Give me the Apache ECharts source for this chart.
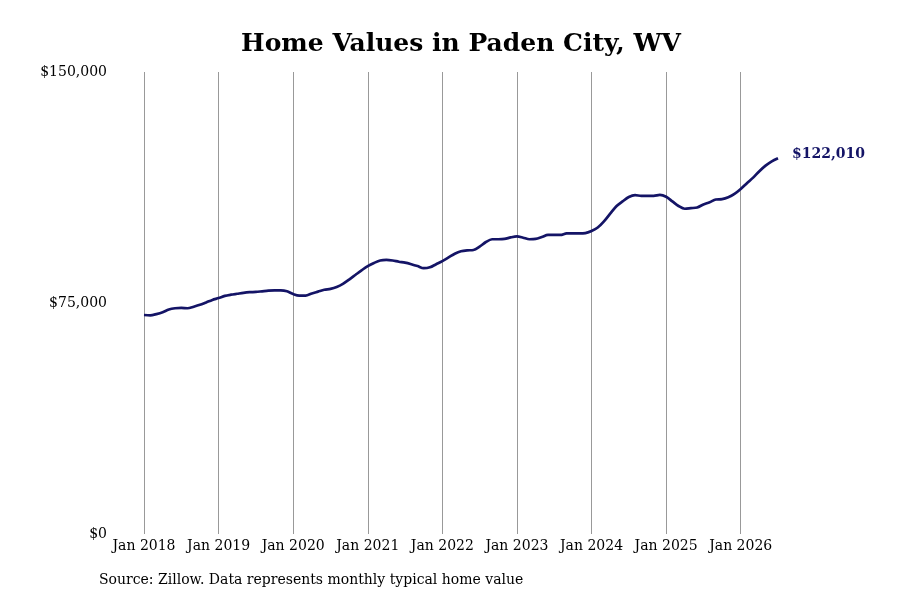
<!DOCTYPE html>
<html>
<head>
<meta charset="utf-8">
<script src="https://cdn.jsdelivr.net/npm/echarts@6/dist/echarts.min.js"></script>
<style>html,body{margin:0;padding:0;background:#fff;}#c{width:900px;height:600px;}</style>
</head>
<body>
<div id="c"></div>
<script>
const monthNames = ['Jan','Feb','Mar','Apr','May','Jun','Jul','Aug','Sep','Oct','Nov','Dec'];
const startYear = 2018;
const homeValues = [
  71.1, 71.0, 71.4, 72.0, 72.9, 73.3, 73.4, 73.3, 73.8, 74.4, 75.2, 76.0,
  76.6, 77.3, 77.7, 78.0, 78.3, 78.5, 78.6, 78.8, 79.0, 79.1, 79.1, 78.8,
  77.9, 77.4, 77.4, 78.1, 78.7, 79.3, 79.6, 80.2, 81.2, 82.6, 84.1, 85.6,
  87.0, 88.0, 88.8, 89.0, 88.8, 88.4, 88.1, 87.6, 87.0, 86.3, 86.6, 87.6,
  88.6, 89.8, 91.0, 91.8, 92.1, 92.2, 93.3, 94.8, 95.7, 95.7, 95.8, 96.3,
  96.6, 96.2, 95.7, 95.8, 96.4, 97.1, 97.1, 97.1, 97.6, 97.6, 97.6, 97.7,
  98.4, 99.5, 101.5, 104.0, 106.4, 108.0, 109.4, 110.0, 109.8, 109.8, 109.8, 110.1,
  109.5, 108.0, 106.5, 105.6, 105.8, 106.0, 107.0, 107.7, 108.6, 108.7, 109.3, 110.4,
  112.0, 113.9, 115.7, 117.8, 119.6, 121.0, 122.01
].map(v => Math.round(v * 1000));
const categories = homeValues.map((_, i) => monthNames[i % 12] + ' ' + (startYear + Math.floor(i / 12)));
const yTicks = [0, 75000, 150000];
const titleText = 'Home Values in Paden City, WV';
const sourceText = 'Source: Zillow. Data represents monthly typical home value';

const font = 'DejaVu Serif';
const chart = echarts.init(document.getElementById('c'));
chart.setOption({
  backgroundColor: '#fff',
  animation: false,
  title: {
    text: titleText,
    left: 456, top: 27, textAlign: 'center',
    textStyle: { fontFamily: font, fontWeight: 'bold', fontSize: 25, color: '#000' }
  },
  graphic: [{
    type: 'text', left: 99, top: 573,
    style: { text: sourceText, fontFamily: font, fontSize: 14, fill: '#000' }
  }],
  grid: { left: 144, right: 122, top: 72, bottom: 66, containLabel: false },
  xAxis: {
    type: 'category', data: categories, boundaryGap: false,
    axisLine: { show: false }, axisTick: { show: false },
    axisLabel: {
      interval: (i) => i % 12 === 0,
      fontFamily: font, fontSize: 14, color: '#000', margin: 5
    },
    splitLine: { show: true, interval: (i) => i % 12 === 0, lineStyle: { color: '#999', width: 1 } }
  },
  yAxis: {
    type: 'value', min: yTicks[0], max: yTicks[2], interval: yTicks[1] - yTicks[0],
    axisLine: { show: false }, axisTick: { show: false }, splitLine: { show: false },
    axisLabel: {
      fontFamily: font, fontSize: 14, color: '#000', margin: 37,
      formatter: v => '$' + v.toLocaleString('en-US')
    }
  },
  series: [{
    type: 'line', data: homeValues, smooth: 0.3, symbol: 'none',
    lineStyle: { color: '#141466', width: 2.7 },
    endLabel: {
      show: true, distance: 14, offset: [0, -4],
      formatter: p => '$' + p.value.toLocaleString('en-US'),
      fontFamily: font, fontWeight: 'bold', fontSize: 14, color: '#141466'
    }
  }]
});
</script>
</body>
</html>
